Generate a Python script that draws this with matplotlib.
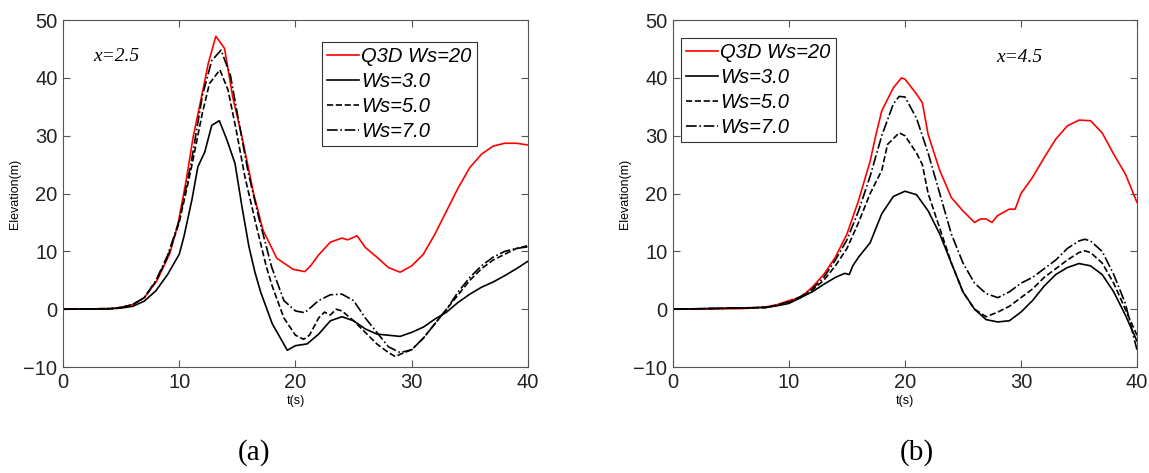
import matplotlib
matplotlib.use("Agg")
import matplotlib.pyplot as plt

# panel (a), x=2.5
t_a_q3d = [0, 4, 5, 6, 7, 8.1, 9.2, 9.9, 10.6, 11.2, 12.1, 12.5, 13.15, 13.9, 14.6, 15.4, 16.4, 17.2, 18.4, 19.8,
           20.8, 21.3, 22, 23, 24, 24.5, 25.3, 26, 27, 28, 29, 30, 31, 32, 33, 34, 35, 36, 37, 38, 39, 40]
a_q3d = [0, 0.1, 0.3, 0.8, 2, 5, 9.7, 14.8, 22.3, 29.8, 38.5, 42.5, 47.2, 45.1, 36.7, 29.8, 20, 13.7, 8.8, 6.9,
         6.5, 7.5, 9.4, 11.6, 12.3, 12, 12.7, 10.7, 9, 7.2, 6.4, 7.5, 9.5, 13, 17, 21, 24.5, 26.8, 28.2, 28.7, 28.7, 28.4]

t_a_ws3 = [0, 4, 5, 6, 7, 8, 9, 10, 10.4, 11.1, 11.6, 12.2, 12.8, 13.45, 14.1, 14.8, 15.4, 16, 16.5, 17,
           18, 19.3, 20, 21, 22, 23, 24, 25, 26, 27, 28, 29, 30, 31, 32, 33, 34, 35, 36, 37, 38, 39, 40]
a_ws3 = [0, 0.05, 0.2, 0.5, 1.4, 3.2, 6, 9.5, 12.5, 19, 24.6, 27.2, 31.8, 32.6, 29.3, 25.2, 17.7, 10.8, 6.5, 3,
         -2.5, -7.1, -6.3, -6, -4.3, -2, -1.3, -2, -3.4, -4.3, -4.5, -4.7, -4, -3.1, -1.7, -0.5, 1.2, 2.6, 3.8, 4.7,
         5.8, 7, 8.3]

t_a_ws5 = [0, 4, 5, 6, 7, 8, 9, 10, 11, 12, 12.6, 13.5, 14.2, 14.9, 15.65, 16.65, 17.5, 18, 19, 20,
           20.7, 21.2, 22, 22.5, 23, 23.5, 24, 25, 26, 27, 28, 28.6, 29, 30, 31, 32, 33, 34, 35, 36, 37, 38, 39, 40]
a_ws5 = [0, 0.1, 0.3, 0.8, 2, 4.8, 9, 15, 24, 34, 39, 41.4, 37.9, 31, 22.9, 14.3, 7.3, 4, -1.5, -4.5,
         -5.2, -4.5, -1.5, -0.5, -1, 0, -0.3, -2, -4, -6, -7.5, -8.2, -7.8, -7, -5, -2.5, 0, 2.5, 5, 7,
         8.5, 9.5, 10.5, 11]

t_a_ws7 = [0, 4, 5, 6, 7, 8, 9, 10, 11, 12, 12.8, 13.6, 14.4, 15.1, 15.95, 16.9, 17.95, 19, 20, 20.8,
           22, 23, 24, 25, 26, 27, 28, 29, 30, 31, 32, 33, 34, 35, 36, 37, 38, 39, 40]
a_ws7 = [0, 0.1, 0.3, 0.8, 2, 5, 9.3, 15.3, 25, 37, 43, 44.8, 40.5, 32.7, 23.5, 15.4, 7.3, 1.5, -0.3, -0.6,
         1.5, 2.5, 2.6, 1.5, -1.5, -4, -6.5, -7.5, -7, -5, -2.5, 0, 3, 5.5, 7.5, 9, 10, 10.5, 10.8]

# panel (b), x=4.5
t_b_q3d = [0, 6, 8, 9, 10, 11, 12, 13, 14, 15, 16, 17, 17.5, 18, 19, 19.7, 20, 21, 21.5, 22,
           23, 24, 25, 26, 26.5, 27, 27.5, 28, 29, 29.5, 30, 31, 32, 33, 34, 35, 36, 37, 38, 39, 40]
b_q3d = [0, 0.1, 0.4, 0.8, 1.5, 2, 3.8, 6, 9, 13, 18.8, 25.6, 30.2, 34.3, 38.3, 40, 39.8, 37.2, 35.7, 30.2,
         24, 19.3, 17, 15, 15.6, 15.6, 15, 16.2, 17.3, 17.3, 20, 22.8, 26.2, 29.4, 31.7, 32.7, 32.6, 30.5, 26.8,
         23.4, 18.5]

t_b_ws3 = [0, 8, 9, 10, 11, 12, 13, 14, 14.8, 15.2, 15.5, 16, 17, 18, 19, 20, 21, 22, 23, 24,
           25, 26, 27, 28, 29, 30, 31, 32, 33, 34, 35, 36, 37, 38, 39, 40]
b_ws3 = [0, 0.3, 0.6, 1, 2, 3, 4.3, 5.5, 6.2, 6, 7.5, 9, 11.5, 16.5, 19.5, 20.4, 19.8, 17, 13, 8,
         3, 0, -1.8, -2.2, -2, -0.5, 1.5, 4, 6, 7.2, 7.9, 7.5, 6, 3, -1, -5.5]

t_b_ws5 = [0, 8, 9, 10, 11, 12, 13, 14, 15, 16, 17, 18, 18.5, 19, 19.5, 20, 21, 21.5, 22, 23,
           24, 25, 26, 27, 28, 29, 30, 31, 32, 33, 34, 35, 35.5, 36, 37, 38, 39, 40]
b_ws5 = [0, 0.3, 0.7, 1.2, 2, 3.3, 5, 7.5, 10.5, 15, 20, 24, 28.5, 29.5, 30.5, 30, 27, 25, 20, 14,
         8, 3, 0, -1.3, -0.5, 0.5, 2, 3.5, 5.5, 7, 8.5, 9.8, 10.1, 9.8, 8, 4.5, 0, -4.5]

t_b_ws7 = [0, 8, 9, 10, 11, 12, 13, 14, 15, 16, 17, 18, 19, 19.5, 20, 21, 22, 23, 24, 25,
           26, 27, 28, 29, 30, 31, 32, 33, 34, 35, 35.5, 36, 37, 38, 39, 40]
b_ws7 = [0, 0.3, 0.7, 1.3, 2.2, 3.5, 5.5, 8.5, 12, 17, 23, 30, 35.5, 36.8, 36.7, 33, 27, 20, 13, 8,
         4.5, 2.7, 2, 3, 4.5, 5.5, 7, 8.5, 10.5, 11.8, 12.1, 11.8, 10, 6, 1, -7]

labels = ["Q3D Ws=20", "Ws=3.0", "Ws=5.0", "Ws=7.0"]
sans = "Liberation Sans"
serif = "Liberation Serif"


def draw_panel(ax, series, note, note_xy, leg_anchor, tag):
    styles = [("red", "-"), ("black", "-"), ("black", "--"), ("black", "-.")]
    for (t, v), (c, ls), lab in zip(series, styles, labels):
        ax.plot(t, v, color=c, ls=ls, lw=1.2, label=lab)
    ax.set_xlim(0, 40)
    ax.set_ylim(-10, 50)
    ax.set_xticks([0, 10, 20, 30, 40])
    ax.set_yticks([-10, 0, 10, 20, 30, 40, 50])
    ax.tick_params(direction="in", top=True, right=True, length=5, width=0.8,
                   labelsize=14.5, colors="#555555", labelcolor="#222222", pad=4)
    for lbl in ax.get_xticklabels() + ax.get_yticklabels():
        lbl.set_fontfamily(sans)
    for sp in ax.spines.values():
        sp.set_color("#555555")
        sp.set_linewidth(0.8)
    ax.set_xlabel("t(s)", fontsize=9, family=sans)
    ax.set_ylabel("Elevation(m)", fontsize=9, family=sans)
    ax.xaxis.set_label_coords(0.5, -0.08)
    ax.yaxis.set_label_coords(-0.09, 0.5)
    ax.text(note_xy[0], note_xy[1], note, family=serif, style="italic", fontsize=14, va="center")
    leg = ax.legend(loc="upper left", bbox_to_anchor=leg_anchor, borderaxespad=0,
                    prop={"family": sans, "style": "italic", "size": 14.5},
                    handlelength=1.6, handletextpad=0.1, labelspacing=0.3, borderpad=0.25,
                    fancybox=False, framealpha=1)
    leg.get_frame().set_edgecolor("#333333")
    leg.get_frame().set_linewidth(0.8)
    ax.text(0.41 if tag == "(a)" else 0.525, -0.245, tag, transform=ax.transAxes,
            family=serif, fontsize=21, ha="center", va="center")


fig = plt.figure(figsize=(11.49, 4.73), dpi=100)
ax1 = fig.add_axes([0.0548, 0.224, 0.4047, 0.7336])
ax2 = fig.add_axes([0.5857, 0.224, 0.4038, 0.7336])

draw_panel(ax1, [(t_a_q3d, a_q3d), (t_a_ws3, a_ws3), (t_a_ws5, a_ws5), (t_a_ws7, a_ws7)],
           "x=2.5", (2.6, 43.7), (0.557, 0.937), "(a)")
draw_panel(ax2, [(t_b_q3d, b_q3d), (t_b_ws3, b_ws3), (t_b_ws5, b_ws5), (t_b_ws7, b_ws7)],
           "x=4.5", (27.9, 43.5), (0.017, 0.948), "(b)")

fig.savefig("out.png", dpi=100)
